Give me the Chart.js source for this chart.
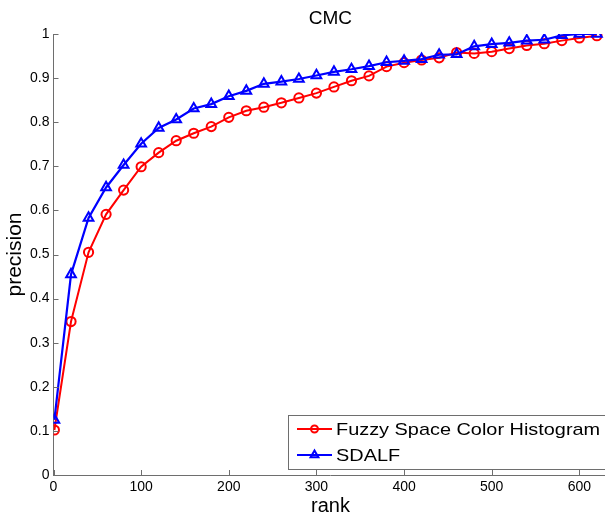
<!DOCTYPE html>
<html>
<head>
<meta charset="utf-8">
<title>CMC</title>
<script src="https://cdn.jsdelivr.net/npm/chart.js@4"></script>
<style>
  html, body { margin: 0; padding: 0; background: #fff; overflow: hidden; }
  #cmc { display: block; }
</style>
</head>
<body>
<canvas id="cmc" width="615" height="519"></canvas>
<script>
// rank positions where the CMC curves were sampled
const ranks = [1, 20, 40, 60, 80, 100, 120, 140, 160, 180, 200, 220, 240, 260, 280, 300,
               320, 340, 360, 380, 400, 420, 440, 460, 480, 500, 520, 540, 560, 580, 600, 620];

// recognition precision per rank
const fuzzySch = [0.102, 0.348, 0.505, 0.591, 0.646, 0.699, 0.731, 0.758, 0.775, 0.790, 0.811, 0.826,
                  0.834, 0.844, 0.855, 0.866, 0.880, 0.894, 0.905, 0.926, 0.935, 0.941, 0.946, 0.958,
                  0.956, 0.960, 0.967, 0.974, 0.978, 0.985, 0.991, 0.996];
const sdalf = [0.125, 0.455, 0.583, 0.652, 0.703, 0.751, 0.787, 0.806, 0.831, 0.841, 0.859, 0.871,
               0.887, 0.892, 0.898, 0.906, 0.914, 0.920, 0.927, 0.936, 0.939, 0.943, 0.953, 0.954,
               0.972, 0.977, 0.980, 0.985, 0.987, 0.997, 1.000, 1.000];

const seriesNames = ['Fuzzy Space Color Histogram', 'SDALF'];
const xTickValues = [0, 100, 200, 300, 400, 500, 600];
const yTickValues = [0, 0.1, 0.2, 0.3, 0.4, 0.5, 0.6, 0.7, 0.8, 0.9, 1];

const FONT = '"Liberation Sans", Arial, Helvetica, sans-serif';
const axisGray = '#6e6e6e';

const toPoints = vals => ranks.map((r, i) => ({ x: r, y: vals[i] }));

// inward tick marks, title and the boxed legend in the lower right
const cmcDecor = {
  id: 'cmcDecor',
  afterDraw(chart) {
    const { ctx, chartArea, scales } = chart;
    const xs = scales.x, ys = scales.y;
    ctx.save();

    ctx.strokeStyle = axisGray;
    ctx.lineWidth = 1;
    xTickValues.forEach(v => {
      const px = Math.round(xs.getPixelForValue(v)) + 0.5;
      ctx.beginPath();
      ctx.moveTo(px, chartArea.bottom);
      ctx.lineTo(px, chartArea.bottom - 5);
      ctx.stroke();
    });
    yTickValues.forEach(v => {
      const py = Math.round(ys.getPixelForValue(v)) + 0.5;
      ctx.beginPath();
      ctx.moveTo(chartArea.left, py);
      ctx.lineTo(chartArea.left + 5, py);
      ctx.stroke();
    });

    // title
    ctx.fillStyle = '#000';
    ctx.font = '19px ' + FONT;
    ctx.textAlign = 'center';
    ctx.textBaseline = 'alphabetic';
    ctx.fillText('CMC', (chartArea.left + chartArea.right) / 2, 24);

    // legend
    const lx = 288.5, ly = 415.5, lh = 54;
    ctx.fillStyle = '#fff';
    ctx.fillRect(lx, ly, 400, lh);
    ctx.strokeStyle = axisGray;
    ctx.strokeRect(lx, ly, 400, lh);

    chart.data.datasets.forEach((ds, i) => {
      const rowY = 429 + i * 26;
      ctx.strokeStyle = ds.borderColor;
      ctx.lineWidth = 2;
      ctx.beginPath();
      ctx.moveTo(297, rowY);
      ctx.lineTo(332, rowY);
      ctx.stroke();
      ctx.fillStyle = 'rgba(0,0,0,0)';
      Chart.helpers.drawPoint(ctx, {
        pointStyle: ds.pointStyle,
        radius: ds.pointStyle === 'triangle' ? 4.5 : 3.5,
        borderWidth: 1.5,
        rotation: 0
      }, 314.5, rowY);

      // legend text is set a little wide
      ctx.save();
      ctx.translate(336, rowY + 1);
      ctx.scale(1.17, 1);
      ctx.fillStyle = '#000';
      ctx.font = '17px ' + FONT;
      ctx.textAlign = 'left';
      ctx.textBaseline = 'middle';
      ctx.fillText(ds.label, 0, 0);
      ctx.restore();
    });

    ctx.restore();
  }
};

new Chart(document.getElementById('cmc'), {
  type: 'line',
  data: {
    datasets: [
      {
        label: seriesNames[0],
        data: toPoints(fuzzySch),
        borderColor: '#ff0000',
        backgroundColor: 'rgba(0,0,0,0)',
        borderWidth: 2,
        pointStyle: 'circle',
        pointRadius: 4.6,
        pointBorderWidth: 2,
        pointBackgroundColor: 'rgba(0,0,0,0)',
        order: 1
      },
      {
        label: seriesNames[1],
        data: toPoints(sdalf),
        borderColor: '#0000ff',
        backgroundColor: 'rgba(0,0,0,0)',
        borderWidth: 2.2,
        pointStyle: 'triangle',
        pointRadius: 5.6,
        pointBorderWidth: 2,
        pointBackgroundColor: 'rgba(0,0,0,0)',
        order: 0
      }
    ]
  },
  options: {
    responsive: false,
    animation: false,
    devicePixelRatio: 1,
    layout: { padding: { top: 34, right: 3.4, bottom: 0, left: 0 } },
    plugins: {
      legend: { display: false },
      tooltip: { enabled: false },
      title: { display: false }
    },
    elements: { line: { tension: 0 } },
    scales: {
      x: {
        type: 'linear',
        min: 0,
        max: 632,
        afterFit(scale) { scale.height = 44; },
        afterBuildTicks(scale) { scale.ticks = xTickValues.map(v => ({ value: v })); },
        grid: { drawOnChartArea: false, drawTicks: false },
        border: { display: true, color: axisGray, width: 1 },
        ticks: {
          padding: 4,
          color: '#000',
          font: { family: FONT, size: 14 },
          maxRotation: 0,
          callback: v => String(v)
        },
        title: {
          display: true,
          text: 'rank',
          color: '#000',
          font: { family: FONT, size: 20 },
          padding: { top: 0, bottom: 1 }
        }
      },
      y: {
        type: 'linear',
        min: 0,
        max: 1,
        afterFit(scale) { scale.width = 53.5; },
        afterBuildTicks(scale) { scale.ticks = yTickValues.map(v => ({ value: v })); },
        grid: { drawOnChartArea: false, drawTicks: false },
        border: { display: true, color: axisGray, width: 1 },
        ticks: {
          padding: 4,
          color: '#000',
          font: { family: FONT, size: 14 },
          callback: v => String(+v.toFixed(1))
        },
        title: {
          display: true,
          text: 'precision',
          color: '#000',
          font: { family: FONT, size: 21 },
          padding: { top: 3, bottom: 0 }
        }
      }
    }
  },
  plugins: [cmcDecor]
});
</script>
</body>
</html>
